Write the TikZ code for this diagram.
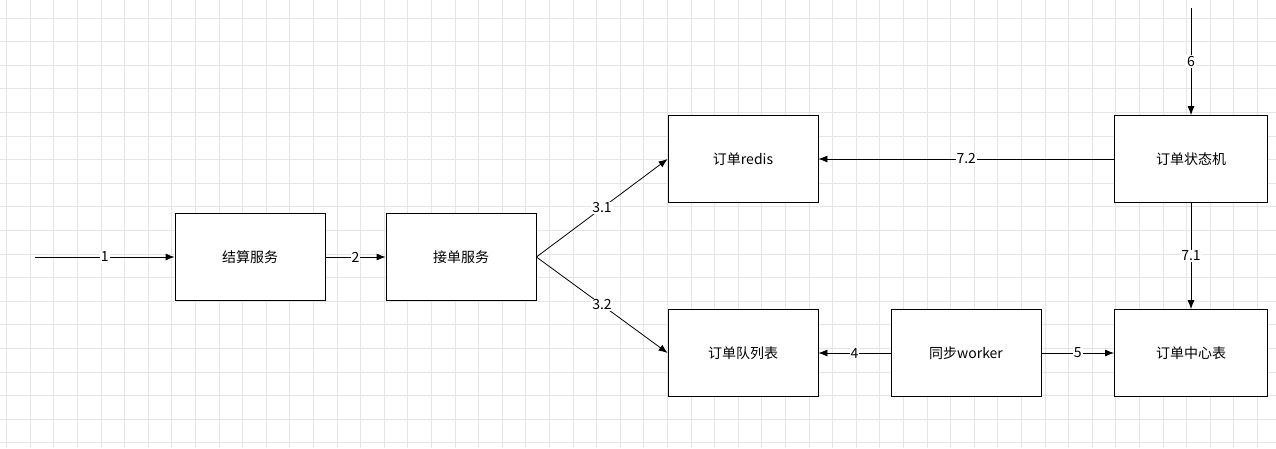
\documentclass[tikz,border=0pt]{standalone}
\usepackage{fontspec}
\setmainfont{Noto Sans CJK SC}
\usetikzlibrary{arrows.meta, positioning}

\tikzset{
  box/.style={draw, thick, fill=white, minimum width=150pt, minimum height=87pt, inner sep=0pt, font=\fontsize{14pt}{16pt}\selectfont},
  link/.style={draw, line width=0.8pt, -{Latex[length=9pt,width=7pt]}},
  lbl/.style={fill=white, inner sep=1pt, font=\fontsize{14pt}{16pt}\selectfont}
}

\begin{document}
\begin{tikzpicture}[x=1pt, y=-1pt]
\useasboundingbox (0,0) rectangle (1276,448);
% Grid
\foreach \i in {0,...,54} {
  \draw[black!10, line width=0.8pt] ({6.5+23.6*\i},0) -- ({6.5+23.6*\i},448);
}
\foreach \j in {0,...,18} {
  \draw[black!10, line width=0.8pt] (0,{18+23.6*\j}) -- (1276,{18+23.6*\j});
}

% Boxes
\node[box] (settle) at (250,257) {结算服务};
\node[box] (accept) at (461,257) {接单服务};
\node[box] (redis) at (743,159) {订单redis};
\node[box] (queue) at (743,353) {订单队列表};
\node[box] (worker) at (966,353) {同步worker};
\node[box, minimum width=153pt] (center) at (1191,353) {订单中心表};
\node[box, minimum width=153pt] (fsm) at (1191,159) {订单状态机};
\coordinate (start) at (35,257);
\coordinate (top) at (1191,8);

% Arrows
\draw[link] (start) -- node[lbl] {1} (settle);
\draw[link] (settle) -- node[lbl] {2} (accept);
\draw[link] (accept.east) -- node[lbl] {3.1} (redis.west);
\draw[link] (accept.east) -- node[lbl] {3.2} (queue.west);
\draw[link] (worker) -- node[lbl] {4} (queue);
\draw[link] (worker) -- node[lbl] {5} (center);
\draw[link] (top) -- node[lbl] {6} (fsm);
\draw[link] (fsm) -- node[lbl] {7.1} (center);
\draw[link] (fsm) -- node[lbl] {7.2} (redis);
\end{tikzpicture}
\end{document}
